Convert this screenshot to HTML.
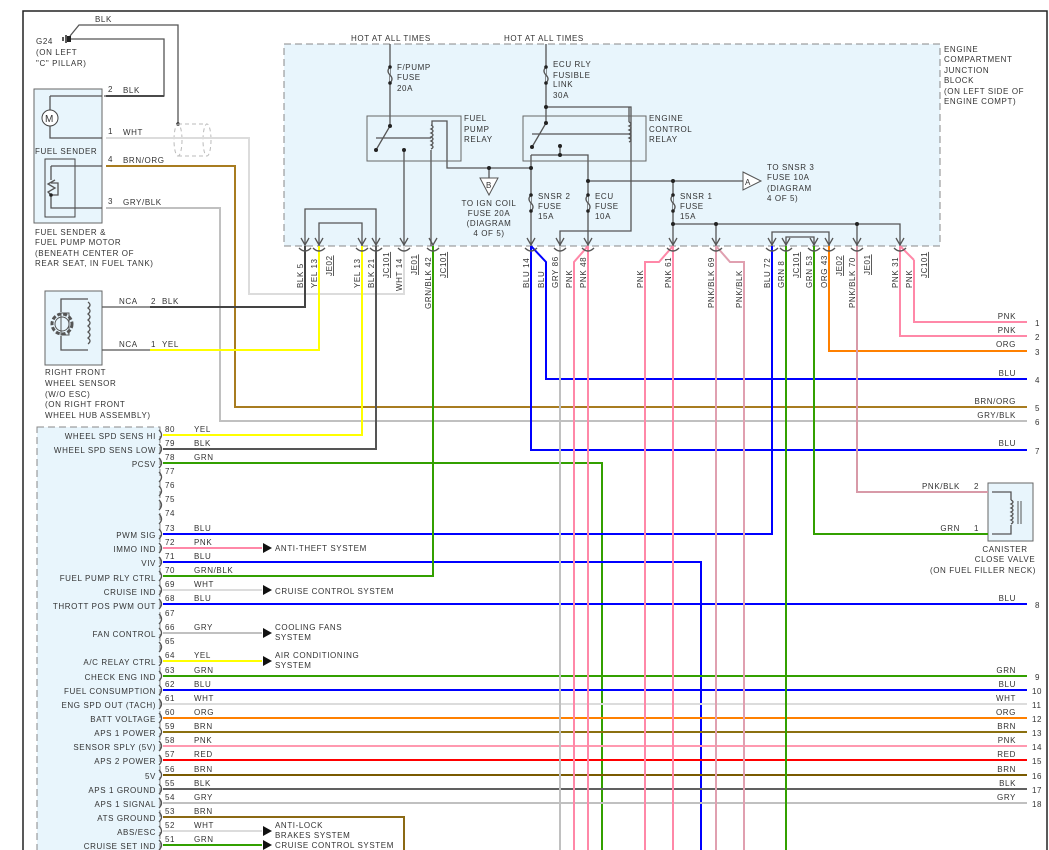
<!DOCTYPE html>
<html><head><meta charset="utf-8"><style>
html,body{margin:0;padding:0;background:#fff;}
svg{display:block;font-family:"Liberation Sans",sans-serif;font-size:8px;fill:#333;letter-spacing:0.6px}
.w{fill:none;stroke-width:2}
.k{fill:none;stroke:#555;stroke-width:1.3}
.t{fill:#333}
</style></head><body>
<svg width="1049" height="850" viewBox="0 0 1049 850" xmlns="http://www.w3.org/2000/svg">
<rect x="23" y="11" width="1024" height="850" fill="none" stroke="#222" stroke-width="1.5"/>
<rect x="284" y="44" width="656" height="202" fill="#e8f5fc" stroke="#888" stroke-dasharray="7,4"/>
<rect x="37" y="427" width="123" height="430" fill="#e8f5fc" stroke="#888" stroke-dasharray="7,4"/>
<rect x="34" y="89" width="68" height="134" fill="#e8f5fc" stroke="#666"/>
<rect x="45" y="159" width="30" height="58" fill="#e8f5fc" stroke="#444"/>
<rect x="45" y="291" width="57" height="74" fill="#e8f5fc" stroke="#666"/>
<rect x="988" y="483" width="45" height="58" fill="#e8f5fc" stroke="#666"/>

<g class="k">
<path d="M70,39 H164 V96 H104"/>
<path d="M70,36 L79,25 H178 V124"/>
<path d="M50,96 H102 M50,96 V110 M50,126 V138 H102"/>
<path d="M51,166 H102 M51,166 V180 M51,195 V208 H102"/>
<path d="M55,180 L48,184 L55,188 L48,192 L51,195 M51,183 L58,183 V195 H51"/>
<path d="M102,307 H150 M102,350 H150 M88,299 H61 V312 M61,336 V350 H88"/>
</g>
<circle cx="50" cy="118" r="8" fill="#fff" stroke="#444"/>
<text x="45" y="122" style="font-size:10px">M</text>
<circle cx="51" cy="195" r="1.8" fill="#222"/>
<circle cx="178" cy="124" r="1.8" fill="#222"/>
<rect x="61" y="313" width="8" height="22" fill="none" stroke="#555"/>
<circle cx="62" cy="324" r="10" fill="none" stroke="#555" stroke-dasharray="4,2" stroke-width="3"/>
<circle cx="62" cy="324" r="7" fill="none" stroke="#555"/>
<path d="M88,302 q4,3 0,6 q4,3 0,6 q4,3 0,6 q4,3 0,6 q4,3 0,6 q4,3 0,6 q4,3 0,6" class="k"/>
<path d="M63,37 V41 M66,35 V43" stroke="#222" stroke-width="1.5"/><rect x="67" y="36" width="4" height="6" fill="#222"/>
<text x="36" y="44">G24</text><text x="36" y="55">(ON LEFT</text><text x="36" y="66">"C" PILLAR)</text>
<text x="95" y="22">BLK</text>
<text x="35" y="154">FUEL SENDER</text>
<text x="35" y="235">FUEL SENDER &amp;</text><text x="35" y="245">FUEL PUMP MOTOR</text><text x="35" y="256">(BENEATH CENTER OF</text><text x="35" y="266">REAR SEAT, IN FUEL TANK)</text>
<text x="45" y="375">RIGHT FRONT</text><text x="45" y="386">WHEEL SENSOR</text><text x="45" y="397">(W/O ESC)</text><text x="45" y="407">(ON RIGHT FRONT</text><text x="45" y="418">WHEEL HUB ASSEMBLY)</text>
<g fill="none" stroke="#bbb" stroke-dasharray="4,3">
<ellipse cx="178" cy="140" rx="4" ry="16"/><ellipse cx="207" cy="140" rx="4" ry="16"/>
<path d="M178,124 H207 M178,156 H207"/>
</g>

<path class="w" stroke="#4a4a4a" d="M106,96 H164"/>
<path class="w" stroke="#dcdcdc" d="M106,138 H249 V294 H404 V246"/>
<path class="w" stroke="#a87c20" d="M106,166 H235 V407 H1027"/>
<path class="w" stroke="#c0c0c0" d="M106,208 H220 V421 H1027"/>
<path class="w" stroke="#444" d="M150,307 H305 V246"/>
<path class="w" stroke="#ffff00" d="M150,350 H319 V246"/>
<text x="108" y="92">2</text><text x="123" y="93">BLK</text>
<text x="108" y="134">1</text><text x="123" y="135">WHT</text>
<text x="108" y="162">4</text><text x="123" y="163">BRN/ORG</text>
<text x="108" y="204">3</text><text x="123" y="205">GRY/BLK</text>
<text x="119" y="304">NCA</text><text x="151" y="304">2</text><text x="162" y="304">BLK</text>
<text x="119" y="347">NCA</text><text x="151" y="347">1</text><text x="162" y="347">YEL</text>

<g class="k">
<path d="M305,246 V209 H376 V246 M319,246 V223 H362 V246"/>
<path d="M390,44 V126 M390,126 L376,150 M404,150 V246 M376,138 H431" />
<path d="M432,125 V121 H447 V168 H531 M431,150 V246"/>
<path d="M546,44 V123 M546,107 H631 V231 H560 V246 M546,123 L532,147 M532,134 H629 M629,122 V107"/>
<path d="M560,146 V155 M531,155 H588 V246 M531,155 V246"/>
<path d="M588,181 H743 M673,181 V246 M673,224 H900 V246 M716,224 V246 M857,224 V246"/>
<path d="M772,246 V232 H829 V246 M786,246 V237 H814 V246"/>
<path d="M489,168 V178"/>
</g>
<path d="M431,125 q4,2 0,4 q4,2 0,4 q4,2 0,4 q4,2 0,4 q4,2 0,4 q4,2 0,4" class="k"/>
<path d="M629,122 q4,2 0,4 q4,2 0,4 q4,2 0,4 q4,2 0,4 q4,2 0,4" class="k"/>
<rect x="367" y="116" width="94" height="45" fill="none" stroke="#666"/>
<rect x="523" y="116" width="123" height="45" fill="none" stroke="#666"/>
<g fill="#e8f5fc" stroke="#555" stroke-width="1.3">
<path d="M390,67 q-4,4 0,8 q4,4 0,8"/><path d="M546,67 q-4,4 0,8 q4,4 0,8"/>
<path d="M531,195 q-4,4 0,8 q4,4 0,8"/><path d="M588,195 q-4,4 0,8 q4,4 0,8"/><path d="M673,195 q-4,4 0,8 q4,4 0,8"/>
</g>
<g fill="#222">
<circle cx="390" cy="67" r="1.8"/><circle cx="390" cy="83" r="1.8"/><circle cx="546" cy="67" r="1.8"/><circle cx="546" cy="83" r="1.8"/>
<circle cx="531" cy="195" r="1.8"/><circle cx="531" cy="211" r="1.8"/><circle cx="588" cy="195" r="1.8"/><circle cx="588" cy="211" r="1.8"/>
<circle cx="673" cy="195" r="1.8"/><circle cx="673" cy="211" r="1.8"/>
<circle cx="390" cy="126" r="2"/><circle cx="376" cy="150" r="2"/><circle cx="404" cy="150" r="2"/>
<circle cx="546" cy="107" r="2"/><circle cx="546" cy="123" r="2"/><circle cx="532" cy="147" r="2"/><circle cx="560" cy="146" r="2"/><circle cx="560" cy="155" r="2"/>
<circle cx="489" cy="168" r="2"/><circle cx="531" cy="168" r="2"/><circle cx="588" cy="181" r="2"/><circle cx="673" cy="181" r="2"/>
<circle cx="673" cy="224" r="2"/><circle cx="716" cy="224" r="2"/><circle cx="857" cy="224" r="2"/>
</g>
<path d="M480,178 H498 L489,195 Z" fill="#fff" stroke="#555"/><text x="486" y="188">B</text>
<path d="M743,172 L761,181 L743,190 Z" fill="#fff" stroke="#555"/><text x="745" y="185">A</text>
<text x="351" y="41">HOT AT ALL TIMES</text><text x="504" y="41">HOT AT ALL TIMES</text>
<text x="397" y="70">F/PUMP</text><text x="397" y="80">FUSE</text><text x="397" y="91">20A</text>
<text x="553" y="67">ECU RLY</text><text x="553" y="78">FUSIBLE</text><text x="553" y="87">LINK</text><text x="553" y="98">30A</text>
<text x="464" y="121">FUEL</text><text x="464" y="132">PUMP</text><text x="464" y="142">RELAY</text>
<text x="649" y="121">ENGINE</text><text x="649" y="132">CONTROL</text><text x="649" y="142">RELAY</text>
<text x="538" y="199">SNSR 2</text><text x="538" y="209">FUSE</text><text x="538" y="219">15A</text>
<text x="595" y="199">ECU</text><text x="595" y="209">FUSE</text><text x="595" y="219">10A</text>
<text x="680" y="199">SNSR 1</text><text x="680" y="209">FUSE</text><text x="680" y="219">15A</text>
<g text-anchor="middle"><text x="489" y="206">TO IGN COIL</text><text x="489" y="216">FUSE 20A</text><text x="489" y="226">(DIAGRAM</text><text x="489" y="236">4 OF 5)</text></g>
<text x="767" y="170">TO SNSR 3</text><text x="767" y="180">FUSE 10A</text><text x="767" y="191">(DIAGRAM</text><text x="767" y="201">4 OF 5)</text>
<text x="944" y="52">ENGINE</text><text x="944" y="62">COMPARTMENT</text><text x="944" y="73">JUNCTION</text><text x="944" y="83">BLOCK</text><text x="944" y="94">(ON LEFT SIDE OF</text><text x="944" y="104">ENGINE COMPT)</text>

<path class="w" stroke="#ff88a8" d="M914,260 V322 H1027"/>
<path class="w" stroke="#ff88a8" d="M900,246 L914,260"/>
<path class="w" stroke="#ff88a8" d="M900,246 V336 H1027"/>
<path class="w" stroke="#ff8000" d="M829,246 V351 H1027"/>
<path class="w" stroke="#0000ff" d="M531,246 L546,262 V379 H1027"/>
<path class="w" stroke="#0000ff" d="M531,246 V450 H1027"/>
<path class="w" stroke="#d89aa8" d="M857,246 V492 H988"/>
<path class="w" stroke="#33a000" d="M814,246 V534 H988"/>
<path class="w" stroke="#ffff00" d="M163,435 H362 V246"/>
<path class="w" stroke="#555" d="M163,449 H376 V246"/>
<path class="w" stroke="#33a000" d="M163,463 H602 V850"/>
<path class="w" stroke="#0000ff" d="M163,534 H772 V246"/>
<path class="w" stroke="#ff88a8" d="M163,548 H262"/>
<path class="w" stroke="#0000ff" d="M163,562 H701 V850"/>
<path class="w" stroke="#33a000" d="M163,576 H433 V246"/>
<path class="w" stroke="#dcdcdc" d="M163,590 H262"/>
<path class="w" stroke="#0000ff" d="M163,604 H1027"/>
<path class="w" stroke="#c0c0c0" d="M163,633 H262"/>
<path class="w" stroke="#ffff00" d="M163,661 H262"/>
<path class="w" stroke="#33a000" d="M163,676 H1027"/>
<path class="w" stroke="#0000ff" d="M163,690 H1027"/>
<path class="w" stroke="#dcdcdc" d="M163,704 H1027"/>
<path class="w" stroke="#ff8000" d="M163,718 H1027"/>
<path class="w" stroke="#8b7010" d="M163,732 H1027"/>
<path class="w" stroke="#ff99b0" d="M163,746 H1027"/>
<path class="w" stroke="#ff0000" d="M163,760 H1027"/>
<path class="w" stroke="#7a5a00" d="M163,775 H1027"/>
<path class="w" stroke="#606060" d="M163,789 H1027"/>
<path class="w" stroke="#c0c0c0" d="M163,803 H1027"/>
<path class="w" stroke="#8b6914" d="M163,817 H404 V850"/>
<path class="w" stroke="#dcdcdc" d="M163,831 H262"/>
<path class="w" stroke="#33a000" d="M163,845 H262"/>
<path class="w" stroke="#c0c0c0" d="M560,246 V850"/>
<path class="w" stroke="#ff88a8" d="M588,246 L574,262 V850"/>
<path class="w" stroke="#ff88a8" d="M588,246 V850"/>
<path class="w" stroke="#ff88a8" d="M673,246 L659,262 H645 V850"/>
<path class="w" stroke="#ff88a8" d="M673,246 V850"/>
<path class="w" stroke="#e0a0b0" d="M716,246 V850"/>
<path class="w" stroke="#e0a0b0" d="M716,246 L730,262 H744 V850"/>
<path class="w" stroke="#33a000" d="M786,246 V850"/>
<g fill="#111"><path d="M263,543 L272,548 L263,553Z"/><path d="M263,585 L272,590 L263,595Z"/><path d="M263,628 L272,633 L263,638Z"/><path d="M263,656 L272,661 L263,666Z"/><path d="M263,826 L272,831 L263,836Z"/><path d="M263,840 L272,845 L263,850Z"/></g>
<text x="275" y="551">ANTI-THEFT SYSTEM</text><text x="275" y="594">CRUISE CONTROL SYSTEM</text>
<text x="275" y="630">COOLING FANS</text><text x="275" y="640">SYSTEM</text>
<text x="275" y="658">AIR CONDITIONING</text><text x="275" y="668">SYSTEM</text>
<text x="275" y="828">ANTI-LOCK</text><text x="275" y="838">BRAKES SYSTEM</text><text x="275" y="848">CRUISE CONTROL SYSTEM</text>

<g class="k" stroke-width="1">
<path d="M301,238 L305,245 L309,238 M315,238 L319,245 L323,238 M358,238 L362,245 L366,238 M372,238 L376,245 L380,238 M400,238 L404,245 L408,238 M429,238 L433,245 L437,238 M527,238 L531,245 L535,238 M556,238 L560,245 L564,238 M584,238 L588,245 L592,238 M669,238 L673,245 L677,238 M712,238 L716,245 L720,238 M768,238 L772,245 L776,238 M782,238 L786,245 L790,238 M810,238 L814,245 L818,238 M825,238 L829,245 L833,238 M853,238 L857,245 L861,238 M896,238 L900,245 L904,238"/>
<path d="M299,248 q6,6 12,0 M313,248 q6,6 12,0 M356,248 q6,6 12,0 M370,248 q6,6 12,0 M398,248 q6,6 12,0 M427,248 q6,6 12,0 M525,248 q6,6 12,0 M554,248 q6,6 12,0 M582,248 q6,6 12,0 M667,248 q6,6 12,0 M710,248 q6,6 12,0 M766,248 q6,6 12,0 M780,248 q6,6 12,0 M808,248 q6,6 12,0 M823,248 q6,6 12,0 M851,248 q6,6 12,0 M894,248 q6,6 12,0"/>
</g>
<g>
<text transform="translate(303,288) rotate(-90)">BLK  5</text>
<text transform="translate(317,288) rotate(-90)">YEL  13</text>
<text transform="translate(332,276) rotate(-90)" text-decoration="underline">JE02</text>
<text transform="translate(360,288) rotate(-90)">YEL  13</text>
<text transform="translate(374,288) rotate(-90)">BLK  21</text>
<text transform="translate(389,278) rotate(-90)" text-decoration="underline">JC101</text>
<text transform="translate(402,291) rotate(-90)">WHT  14</text>
<text transform="translate(417,275) rotate(-90)" text-decoration="underline">JE01</text>
<text transform="translate(431,309) rotate(-90)">GRN/BLK  42</text>
<text transform="translate(446,278) rotate(-90)" text-decoration="underline">JC101</text>
<text transform="translate(529,288) rotate(-90)">BLU  14</text>
<text transform="translate(544,288) rotate(-90)">BLU</text>
<text transform="translate(558,288) rotate(-90)">GRY  86</text>
<text transform="translate(572,288) rotate(-90)">PNK</text>
<text transform="translate(586,288) rotate(-90)">PNK  48</text>
<text transform="translate(643,288) rotate(-90)">PNK</text>
<text transform="translate(671,288) rotate(-90)">PNK  61</text>
<text transform="translate(714,308) rotate(-90)">PNK/BLK  69</text>
<text transform="translate(742,308) rotate(-90)">PNK/BLK</text>
<text transform="translate(770,288) rotate(-90)">BLU  72</text>
<text transform="translate(784,288) rotate(-90)">GRN  8</text>
<text transform="translate(799,278) rotate(-90)" text-decoration="underline">JC101</text>
<text transform="translate(812,288) rotate(-90)">GRN  53</text>
<text transform="translate(827,288) rotate(-90)">ORG  43</text>
<text transform="translate(842,276) rotate(-90)" text-decoration="underline">JE02</text>
<text transform="translate(855,308) rotate(-90)">PNK/BLK  70</text>
<text transform="translate(870,275) rotate(-90)" text-decoration="underline">JE01</text>
<text transform="translate(898,288) rotate(-90)">PNK  31</text>
<text transform="translate(912,288) rotate(-90)">PNK</text>
<text transform="translate(927,278) rotate(-90)" text-decoration="underline">JC101</text>
</g>

<g text-anchor="end">
<text x="1016" y="319">PNK</text><text x="1016" y="333">PNK</text><text x="1016" y="347">ORG</text><text x="1016" y="376">BLU</text>
<text x="1016" y="404">BRN/ORG</text><text x="1016" y="418">GRY/BLK</text><text x="1016" y="446">BLU</text><text x="1016" y="601">BLU</text>
<text x="1016" y="673">GRN</text><text x="1016" y="687">BLU</text><text x="1016" y="701">WHT</text><text x="1016" y="715">ORG</text><text x="1016" y="729">BRN</text>
<text x="1016" y="743">PNK</text><text x="1016" y="757">RED</text><text x="1016" y="772">BRN</text><text x="1016" y="786">BLK</text><text x="1016" y="800">GRY</text>
<text x="960" y="489">PNK/BLK</text><text x="960" y="531">GRN</text>
</g>
<text x="974" y="489">2</text><text x="974" y="531">1</text>
<g>
<text x="1035" y="326">1</text><text x="1035" y="340">2</text><text x="1035" y="355">3</text><text x="1035" y="383">4</text><text x="1035" y="411">5</text><text x="1035" y="425">6</text><text x="1035" y="454">7</text><text x="1035" y="608">8</text>
<text x="1035" y="680">9</text><text x="1032" y="694">10</text><text x="1032" y="708">11</text><text x="1032" y="722">12</text><text x="1032" y="736">13</text><text x="1032" y="750">14</text><text x="1032" y="764">15</text><text x="1032" y="779">16</text><text x="1032" y="793">17</text><text x="1032" y="807">18</text>
</g>
<path class="k" d="M992,492 H1011 V500 M1011,525 V534 H992"/>
<path d="M1011,500 q4,2 0,4 q4,2 0,4 q4,2 0,4 q4,2 0,4 q4,2 0,4 q4,2 0,4" class="k"/>
<path d="M1018,501 V524 M1021,501 V524" stroke="#555"/>
<g text-anchor="middle"><text x="1005" y="552">CANISTER</text><text x="1005" y="562">CLOSE VALVE</text><text x="983" y="573">(ON FUEL FILLER NECK)</text></g>

<g class="k" stroke-width="1">
<path d="M159,430 q5,5 0,10 M159,444 q5,5 0,10 M159,458 q5,5 0,10 M159,472 q5,5 0,10 M159,486 q5,5 0,10 M159,500 q5,5 0,10 M159,514 q5,5 0,10 M159,529 q5,5 0,10 M159,543 q5,5 0,10 M159,557 q5,5 0,10 M159,571 q5,5 0,10 M159,585 q5,5 0,10 M159,599 q5,5 0,10 M159,614 q5,5 0,10 M159,628 q5,5 0,10 M159,642 q5,5 0,10 M159,656 q5,5 0,10 M159,671 q5,5 0,10 M159,685 q5,5 0,10 M159,699 q5,5 0,10 M159,713 q5,5 0,10 M159,727 q5,5 0,10 M159,741 q5,5 0,10 M159,755 q5,5 0,10 M159,770 q5,5 0,10 M159,784 q5,5 0,10 M159,798 q5,5 0,10 M159,812 q5,5 0,10 M159,826 q5,5 0,10 M159,840 q5,5 0,10"/>
</g>
<g>
<text x="165" y="432">80</text><text x="165" y="446">79</text><text x="165" y="460">78</text><text x="165" y="474">77</text><text x="165" y="488">76</text><text x="165" y="502">75</text><text x="165" y="516">74</text><text x="165" y="531">73</text><text x="165" y="545">72</text><text x="165" y="559">71</text><text x="165" y="573">70</text><text x="165" y="587">69</text><text x="165" y="601">68</text><text x="165" y="616">67</text><text x="165" y="630">66</text><text x="165" y="644">65</text><text x="165" y="658">64</text><text x="165" y="673">63</text><text x="165" y="687">62</text><text x="165" y="701">61</text><text x="165" y="715">60</text><text x="165" y="729">59</text><text x="165" y="743">58</text><text x="165" y="757">57</text><text x="165" y="772">56</text><text x="165" y="786">55</text><text x="165" y="800">54</text><text x="165" y="814">53</text><text x="165" y="828">52</text><text x="165" y="842">51</text>
<text x="194" y="432">YEL</text><text x="194" y="446">BLK</text><text x="194" y="460">GRN</text><text x="194" y="531">BLU</text><text x="194" y="545">PNK</text><text x="194" y="559">BLU</text><text x="194" y="573">GRN/BLK</text><text x="194" y="587">WHT</text><text x="194" y="601">BLU</text><text x="194" y="630">GRY</text><text x="194" y="658">YEL</text><text x="194" y="673">GRN</text><text x="194" y="687">BLU</text><text x="194" y="701">WHT</text><text x="194" y="715">ORG</text><text x="194" y="729">BRN</text><text x="194" y="743">PNK</text><text x="194" y="757">RED</text><text x="194" y="772">BRN</text><text x="194" y="786">BLK</text><text x="194" y="800">GRY</text><text x="194" y="814">BRN</text><text x="194" y="828">WHT</text><text x="194" y="842">GRN</text>
</g>
<g text-anchor="end">
<text x="156" y="439">WHEEL SPD SENS HI</text><text x="156" y="453">WHEEL SPD SENS LOW</text><text x="156" y="467">PCSV</text>
<text x="156" y="538">PWM SIG</text><text x="156" y="552">IMMO IND</text><text x="156" y="566">VIV</text><text x="156" y="581">FUEL PUMP RLY CTRL</text><text x="156" y="595">CRUISE IND</text><text x="156" y="609">THROTT POS PWM OUT</text>
<text x="156" y="637">FAN CONTROL</text><text x="156" y="665">A/C RELAY CTRL</text><text x="156" y="680">CHECK ENG IND</text><text x="156" y="694">FUEL CONSUMPTION</text><text x="156" y="708">ENG SPD OUT (TACH)</text><text x="156" y="722">BATT VOLTAGE</text><text x="156" y="736">APS 1 POWER</text><text x="156" y="750">SENSOR SPLY (5V)</text><text x="156" y="764">APS 2 POWER</text><text x="156" y="779">5V</text><text x="156" y="793">APS 1 GROUND</text><text x="156" y="807">APS 1 SIGNAL</text><text x="156" y="821">ATS GROUND</text><text x="156" y="835">ABS/ESC</text><text x="156" y="849">CRUISE SET IND</text>
</g>
</svg>
</body></html>
